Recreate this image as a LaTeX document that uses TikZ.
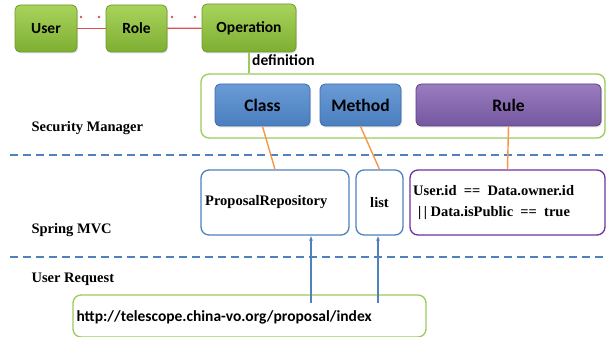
\documentclass[tikz,border=0pt]{standalone}
\usepackage{fontspec}
\setmainfont{Liberation Serif}
\newfontfamily\carlitofont{Carlito}
\usetikzlibrary{arrows.meta,shadows}
\definecolor{gtop}{HTML}{A9D35C}
\definecolor{gbot}{HTML}{7DAF32}
\definecolor{gline}{HTML}{6F9A2E}
\definecolor{glight}{HTML}{9BCB5B}
\definecolor{btop}{HTML}{6A9BD6}
\definecolor{bbot}{HTML}{4A7EBE}
\definecolor{bline}{HTML}{3D6EAA}
\definecolor{bblue}{HTML}{4F81BD}
\definecolor{ptop}{HTML}{9A7CC0}
\definecolor{pbot}{HTML}{7557A0}
\definecolor{pline}{HTML}{5E3F86}
\definecolor{pedge}{HTML}{7030A0}
\definecolor{orng}{HTML}{F79646}
\definecolor{redl}{HTML}{D9534F}
\tikzset{
  greenbox/.style={draw=gline, line width=0.8pt, rounded corners=5pt, top color=gtop, bottom color=gbot,
     font=\carlitofont\bfseries\fontsize{15.5}{18}\selectfont, text=black, drop shadow={opacity=0.25,shadow xshift=1pt,shadow yshift=-1.5pt}},
  bluebox/.style={draw=bline, line width=0.8pt, rounded corners=5pt, top color=btop, bottom color=bbot,
     font=\carlitofont\bfseries\fontsize{17.5}{20}\selectfont, text=black, drop shadow={opacity=0.25,shadow xshift=1pt,shadow yshift=-1.5pt}},
  purplebox/.style={draw=pline, line width=0.8pt, rounded corners=5pt, top color=ptop, bottom color=pbot,
     font=\carlitofont\bfseries\fontsize{17.5}{20}\selectfont, text=black, drop shadow={opacity=0.25,shadow xshift=1pt,shadow yshift=-1.5pt}},
  outline/.style={draw=#1, line width=1.3pt, rounded corners=8pt, fill=white},
  sidelabel/.style={anchor=west, font=\bfseries\fontsize{14.5}{16}\selectfont},
  boxtext/.style={anchor=west, inner sep=0pt, font=\bfseries\fontsize{14.5}{21}\selectfont},
  sepline/.style={draw=bblue, line width=1.4pt, dash pattern=on 8pt off 5pt},
  orangeline/.style={draw=orng, line width=1.4pt},
  bluearrow/.style={draw=bblue, line width=1.4pt, -{Latex[length=5pt,width=4pt]}},
}
\begin{document}
\begin{tikzpicture}[x=1pt,y=-1pt]
\useasboundingbox[fill=white] (0,0) rectangle (606,337);
% separators
\draw[sepline] (10,155) -- (606,155);
\draw[sepline] (10,257) -- (606,257);
% top row
\node[greenbox, minimum width=62pt, minimum height=47pt] (user) at (46,28.5) {User};
\node[greenbox, minimum width=61pt, minimum height=47pt] (role) at (136.5,28.5) {Role};
\node[greenbox, minimum width=94pt, minimum height=48pt] (op) at (249,28) {Operation};
\draw[redl, line width=1.3pt] (user) -- (role);
\draw[redl, line width=1.3pt] (role) -- (op);
\fill[redl] (81,17) circle (1.3pt) (99,17) circle (1.3pt) (172,17) circle (1.3pt) (195,17) circle (1.3pt);
% security manager
\node[outline=glight, minimum width=404pt, minimum height=64pt] (sec) at (403,106) {};
\draw[glight, line width=1.3pt] (op.south) -- (op.south |- sec.north);
\node[anchor=west, font=\carlitofont\bfseries\fontsize{15.5}{18}\selectfont, inner sep=0pt] (defn) at (252,60) {definition};
\node[bluebox, minimum width=95pt, minimum height=42pt] (class) at (262.5,105) {Class};
\node[bluebox, minimum width=81pt, minimum height=42pt] (method) at (360.5,105) {Method};
\node[purplebox, minimum width=185pt, minimum height=42pt] (rule) at (508.5,105) {Rule};
% spring mvc
\node[outline=bblue, minimum width=148pt, minimum height=65pt] (pr) at (275,202.5) {};
\node[boxtext] (prtext) at (205,202) {ProposalRepository};
\node[outline=bblue, minimum width=47pt, minimum height=65pt, font=\bfseries\fontsize{14.5}{16}\selectfont] (list) at (379.5,202.5) {list};
\node[outline=pedge, minimum width=195pt, minimum height=65pt] (ruletext) at (507.5,202.5) {};
\node[boxtext, align=left] (ruletextlabel) at (413,202.5) {User.id\ \ ==\ \ Data.owner.id\\ \hspace{5pt}|\,|\ Data.isPublic\ \ ==\ \ true};
\draw[orangeline] (class.south) -- (pr.north);
\draw[orangeline] (method.south) -- (list.north);
\draw[orangeline] (rule.south) -- (ruletext.north);
% labels
\node[sidelabel] (lsec) at (28,128) {Security Manager};
\node[sidelabel] (lmvc) at (28,230) {Spring MVC};
\node[sidelabel] (lreq) at (28,279) {User Request};
% user request
\node[outline=glight, minimum width=353pt, minimum height=42pt] (url) at (249.5,316) {};
\node[anchor=west, font=\carlitofont\bfseries\fontsize{15.5}{18}\selectfont] (urltext) at (73,317) {http://telescope.china-vo.org/proposal/index};
\coordinate (a1) at (311,303);
\coordinate (a2) at (378,303);
\draw[bluearrow] (a1) -- (a1 |- pr.south);
\draw[bluearrow] (a2) -- (a2 |- list.south);
\end{tikzpicture}
\end{document}
